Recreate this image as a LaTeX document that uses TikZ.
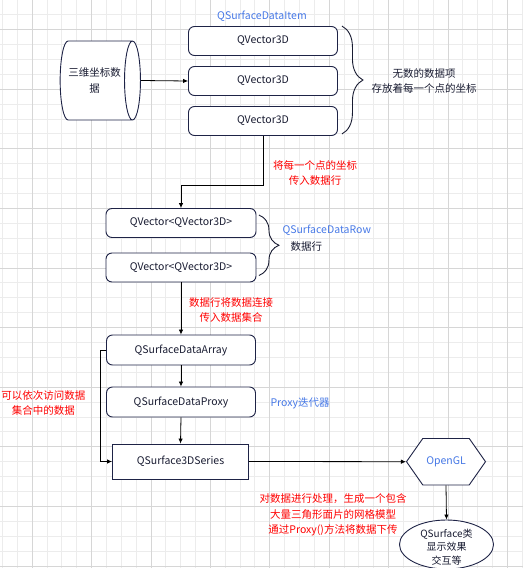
\documentclass[tikz,border=0pt]{standalone}
\usepackage{fontspec}
\setmainfont{Noto Sans CJK SC}
\usepackage{tikz}
\usetikzlibrary{arrows.meta}
\usetikzlibrary{shapes.geometric}
\usetikzlibrary{shapes.symbols}
\usetikzlibrary{decorations.pathreplacing}

\definecolor{boxline}{RGB}{30,35,70}
\definecolor{ink}{RGB}{25,28,50}
\definecolor{labelblue}{RGB}{70,120,230}
\definecolor{notered}{RGB}{255,0,0}
\definecolor{gridminor}{RGB}{236,236,236}
\definecolor{gridmajor}{RGB}{214,214,214}

\begin{document}
\begin{tikzpicture}[x=1pt, y=-1pt, every node/.style={font=\fontsize{10.5}{15.5}\selectfont}]
			\tikzset{box/.style={draw=boxline, line width=0.9pt, fill=white, rounded corners=6pt, minimum width=149pt, minimum height=29pt, text=ink}}
			\tikzset{arrow/.style={-{Latex[length=5pt,width=4.5pt]}, line width=0.8pt}}
			\tikzset{curly/.style={decorate, decoration={brace, amplitude=#1}, line width=0.9pt, draw=ink}}
			\tikzset{bluetext/.style={text=labelblue}}
			\tikzset{redtext/.style={text=notered, align=center}}
			\useasboundingbox (0,0) rectangle (523,568);
			%grid
			\foreach \k in {0,...,35}
				\draw[gridminor, line width=0.8pt] ({2.4+14.85*\k},0) -- ({2.4+14.85*\k},568);
			\foreach \j in {0,...,38}
				\draw[gridminor, line width=0.8pt] (0,{-0.3+14.9*\j}) -- (523,{-0.3+14.9*\j});
			\foreach \k in {2,6,...,34}
				\draw[gridmajor, line width=0.8pt] ({2.4+14.85*\k},0) -- ({2.4+14.85*\k},568);
			\foreach \j in {2,6,...,38}
				\draw[gridmajor, line width=0.8pt] (0,{-0.3+14.9*\j}) -- (523,{-0.3+14.9*\j});
			%nodes
			\node[bluetext] (itemlabel) at (262,16) {QSurfaceDataItem};
			\node[box] (vec1) at (263,41) {QVector3D};
			\node[box] (vec2) at (263,81) {QVector3D};
			\node[box] (vec3) at (263,121) {QVector3D};
			\node[cylinder, draw=boxline, line width=0.9pt, fill=white, text=ink, align=center, minimum width=79pt, minimum height=48pt, aspect=0.5] (coords) at (94.5,80.5) {三维坐标数\\据};
			\node[align=center, text=ink] (itemnote) at (424,81) {无数的数据项\\存放着每一个点的坐标};
			\node[redtext] (rownote) at (315,173) {将每一个点的坐标\\传入数据行};
			\node[box, minimum width=150pt] (row1) at (181,223) {QVector<QVector3D>};
			\node[box, minimum width=150pt] (row2) at (181,267.5) {QVector<QVector3D>};
			\node[bluetext, anchor=west] (rowlabel) at (279,230) {QSurfaceDataRow};
			\node[text=ink, anchor=west] (rowname) at (287,247) {数据行};
			\node[redtext] (arraynote) at (231,310) {数据行将数据连接\\传入数据集合};
			\node[box, minimum height=30pt] (array) at (181,350) {QSurfaceDataArray};
			\node[box, minimum height=30pt] (proxy) at (181,402) {QSurfaceDataProxy};
			\node[bluetext, anchor=west] (proxylabel) at (267,403) {Proxy迭代器};
			\node[draw=boxline, line width=0.9pt, fill=white, text=ink, minimum width=136pt, minimum height=35pt] (series) at (180.5,461.5) {QSurface3DSeries};
			\node[redtext] (accessnote) at (43.5,403) {可以依次访问数据\\集合中的数据};
			\node[signal, signal to=west and east, signal pointer angle=110, draw=boxline, line width=0.9pt, fill=white, text=labelblue, minimum width=79pt, minimum height=46.5pt, inner sep=0pt] (opengl) at (446,461.7) {OpenGL};
			\node[ellipse, draw=boxline, line width=0.9pt, fill=white, minimum width=94pt, minimum height=49pt] (qsurf) at (446.5,544.5) {};
			\node[text=ink, align=center, font=\fontsize{10}{13.5}\selectfont] (qsurftext) at (446.5,547) {QSurface类\\显示效果\\交互等};
			\node[redtext] (meshnote) at (333,515) {对数据进行处理，生成一个包含\\大量三角形面片的网格模型\\通过Proxy()方法将数据下传};
			%connectors
			\coordinate (turn1) at (263,185);
			\coordinate (turn2) at (100,350);
			\draw[arrow] (coords.east) -- (vec2.west);
			\draw[arrow] (vec3.south) -- (turn1) -| (row1.north);
			\draw[arrow] (row2.south) -- (array.north);
			\draw[arrow] (array.south) -- (proxy.north);
			\draw[arrow] (proxy.south) -- (series.north);
			\draw[arrow] (array.west) -- (turn2) |- (series.west);
			\draw[arrow] (series.east) -- (opengl.west);
			\draw[arrow] (opengl.south) -- (qsurf.north);
			%braces
			\draw[curly=21pt] ([xshift=4pt]vec1.north east) -- ([xshift=4pt, yshift=2pt]vec3.south east);
			\draw[curly=20pt] ([xshift=2.5pt, yshift=-7pt]row1.north east) -- ([xshift=2.5pt, yshift=7pt]row2.south east);
\end{tikzpicture}
\end{document}
